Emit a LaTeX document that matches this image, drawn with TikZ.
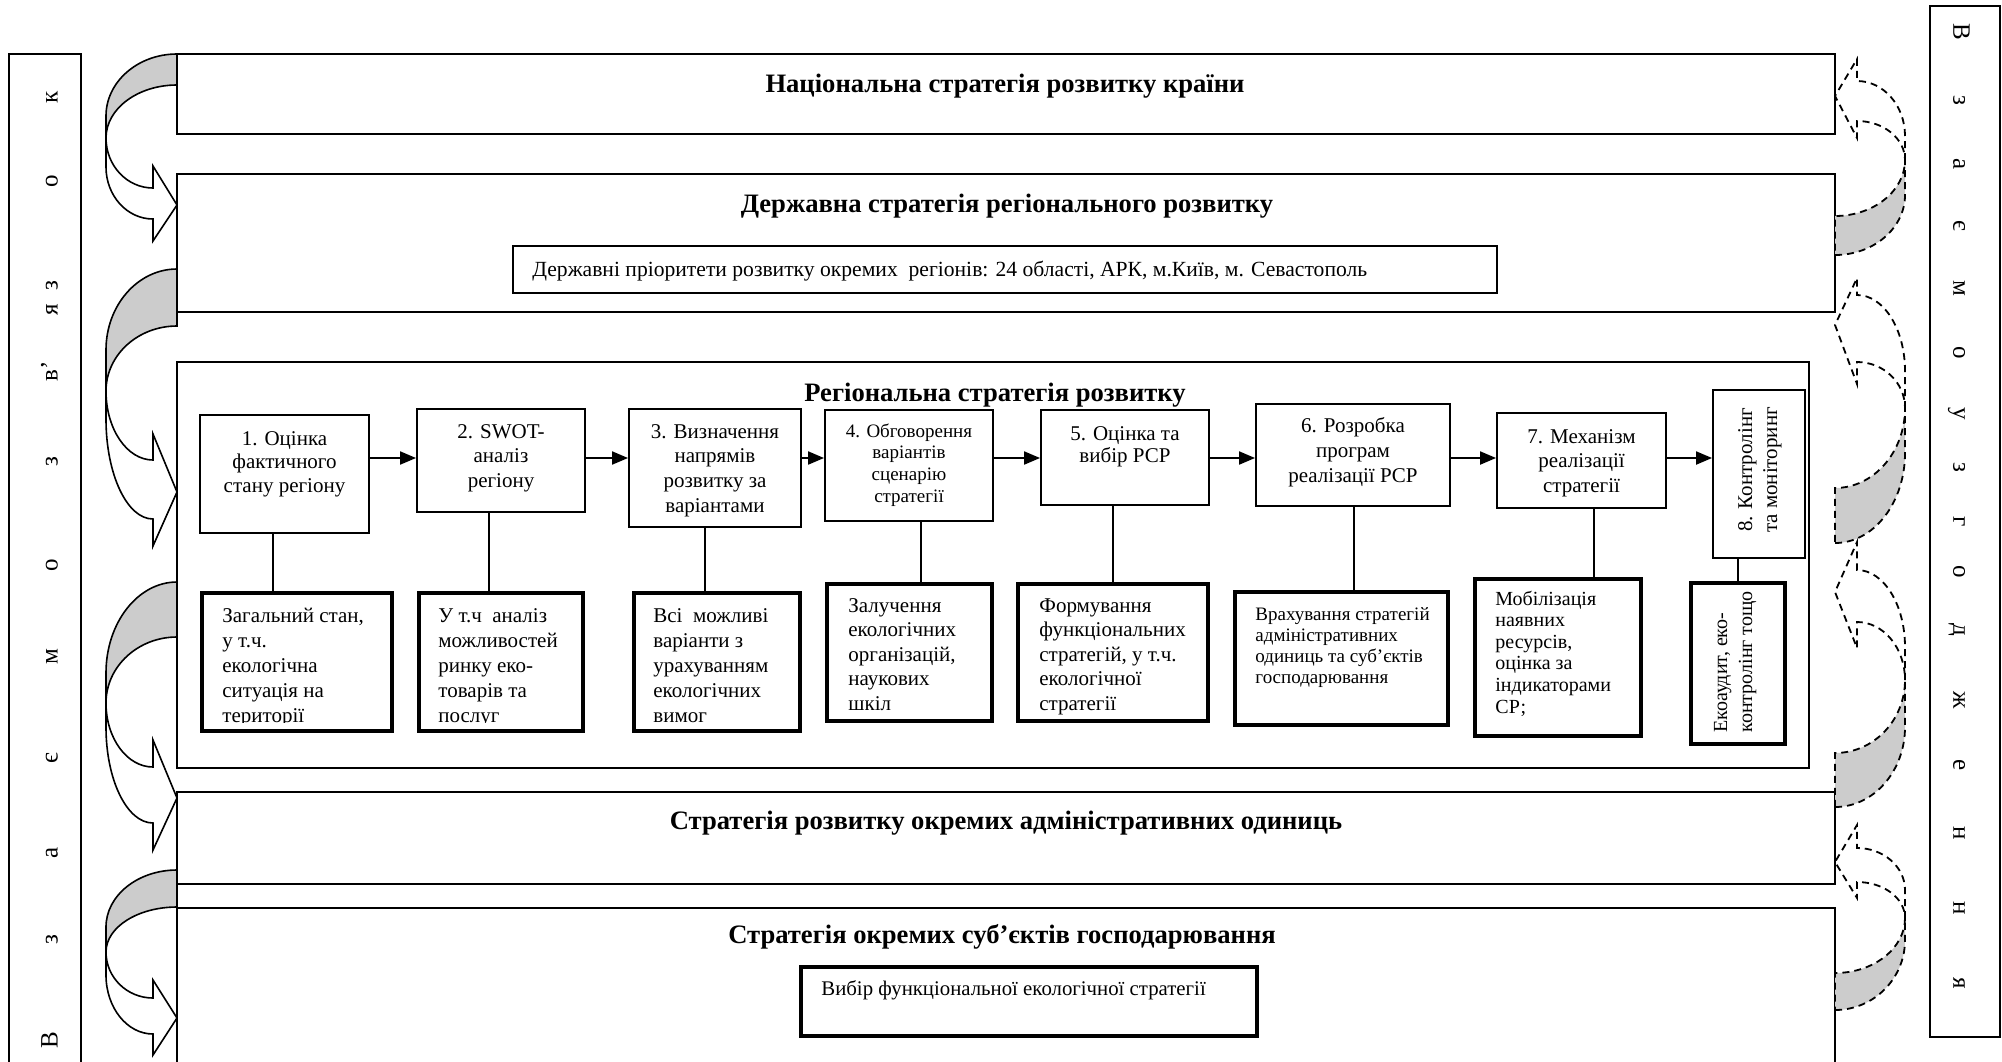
\documentclass[tikz,border=0pt]{standalone}
\usepackage{fontspec}
\setmainfont{Liberation Serif}
\usetikzlibrary{arrows.meta,calc,fit}
\definecolor{bandgray}{RGB}{204,204,204}
\begin{document}
\begin{tikzpicture}[x=0.5pt,y=-0.5pt,
  frame/.style={draw,line width=0.95pt,inner sep=0pt},
  stepbox/.style={draw,line width=0.95pt,inner sep=0pt},
  detbox/.style={draw,line width=2pt,inner sep=0pt},
  ttl/.style={font=\fontsize{13.3}{16}\selectfont\bfseries,inner sep=0pt,anchor=base},
  txt/.style={inner sep=0pt,anchor=base},
  arr/.style={-{Triangle[length=8pt,width=6.5pt]},line width=1pt},
  conn/.style={line width=0.8pt},
  backband/.style={fill=bandgray,draw,line width=0.8pt},
  frontband/.style={fill=white,draw,line width=0.8pt},
  dback/.style={fill=bandgray,draw,line width=0.9pt,dash pattern=on 3.5pt off 2.5pt},
  dfront/.style={draw,line width=0.9pt,dash pattern=on 3.5pt off 2.5pt},
  letter/.style={font=\fontsize{12.5}{14}\selectfont,inner sep=0pt,text height=1ex,text depth=0pt}
]
\useasboundingbox (0,0) rectangle (2002,1061);

% side boxes
\node[frame,fit={(9,54) (81,1090)}] (lbox) {};
\node[frame,fit={(1930,6) (2000,1037)}] (rbox) {};
\foreach \ch/\yy [count=\i] in {В/1040,з/940,а/853,є/758,м/657,о/565,з/462,в’/371,я/310,з/286,о/181,к/97}
  \node[letter,rotate=90] (l\i) at (53,\yy) {\ch};
\foreach \ch/\yy [count=\i] in {В/32,з/100,а/164,є/226,м/288,о/353,у/414,з/467,г/522,о/572,д/630,ж/700,е/765,н/833,н/908,я/983}
  \node[letter,rotate=-90] (r\i) at (1958,\yy) {\ch};

% level boxes
\node[frame,fit={(177,54) (1835,134)}] (b1) {};
\node[frame,fit={(177,174) (1835,312)}] (b2) {};
\node[frame,line width=1pt,fit={(513,246) (1497,293)}] (b2i) {};
\node[frame,fit={(177,362) (1809,768)}] (b3) {};
\node[frame,fit={(177,792) (1835,884)}] (b4) {};
\node[frame,fit={(177,908) (1835,1090)}] (b5) {};
\node[frame,line width=1.6pt,fit={(801,967) (1257,1036)}] (b5i) {};

\node[ttl] (t1) at (1005,92) {Національна стратегія розвитку країни};
\node[ttl] (t2) at (1007,212) {Державна стратегія регіонального розвитку};
\node[txt,anchor=base west,font=\fontsize{10.8}{12}\selectfont] (t2i) at (532,276) {Державні пріоритети розвитку окремих~ регіонів: 24 області, АРК, м.Київ, м. Севастополь};
\node[ttl] (t3) at (995,401) {Регіональна стратегія розвитку};
\node[ttl] (t4) at (1006,829) {Стратегія розвитку окремих адміністративних одиниць};
\node[ttl] (t5) at (1002,943) {Стратегія окремих суб’єктів господарювання};
\node[txt,anchor=base west,font=\fontsize{10.4}{12}\selectfont] (t5i) at (821,995) {Вибір функціональної екологічної стратегії};

% step boxes
\node[stepbox,fit={(200,415) (369,533)}] (s1) {};
\node[stepbox,fit={(417,409) (585,512)}] (s2) {};
\node[stepbox,fit={(629,409) (801,527)}] (s3) {};
\node[stepbox,fit={(825,410) (993,521)}] (s4) {};
\node[stepbox,fit={(1041,410) (1209,505)}] (s5) {};
\node[stepbox,fit={(1256,404) (1450,506)}] (s6) {};
\node[stepbox,fit={(1497,413) (1666,508)}] (s7) {};
\node[stepbox,fit={(1713,390) (1805,558)}] (s8) {};

\node[txt,font=\fontsize{10.5}{11.75}\selectfont] (s1t) at (284.5,445) {\begin{tabular}[t]{@{}c@{}}1. Оцінка\\фактичного\\стану регіону\end{tabular}};
\node[txt,font=\fontsize{10.5}{12.25}\selectfont] (s2t) at (501,438) {\begin{tabular}[t]{@{}c@{}}2. SWOT-\\аналіз\\регіону\end{tabular}};
\node[txt,font=\fontsize{10.5}{12.35}\selectfont] (s3t) at (715,438) {\begin{tabular}[t]{@{}c@{}}3. Визначення\\напрямів\\розвитку за\\варіантами\end{tabular}};
\node[txt,font=\fontsize{9.5}{10.85}\selectfont] (s4t) at (909,437) {\begin{tabular}[t]{@{}c@{}}4. Обговорення\\варіантів\\сценарію\\стратегії\end{tabular}};
\node[txt,font=\fontsize{10.5}{11}\selectfont] (s5t) at (1125,440) {\begin{tabular}[t]{@{}c@{}}5. Оцінка та\\вибір РСР\end{tabular}};
\node[txt,font=\fontsize{10.5}{12.5}\selectfont] (s6t) at (1353,432) {\begin{tabular}[t]{@{}c@{}}6. Розробка\\програм\\реалізації РСР\end{tabular}};
\node[txt,font=\fontsize{10.5}{12.25}\selectfont] (s7t) at (1581.5,443) {\begin{tabular}[t]{@{}c@{}}7. Механізм\\реалізації\\стратегії\end{tabular}};
\node[inner sep=0pt,rotate=90,font=\fontsize{10.5}{12.5}\selectfont] (s8t) at (1759.5,470) {\begin{tabular}{@{}c@{}}8. Контролінг\\та моніторинг\end{tabular}};

% detail boxes
\node[detbox,fit={(202,593) (392,731)}] (d1) {};
\node[detbox,fit={(419,593) (583,731)}] (d2) {};
\node[detbox,fit={(634,593) (800,731)}] (d3) {};
\node[detbox,fit={(827,584) (992,721)}] (d4) {};
\node[detbox,fit={(1018,584) (1208,721)}] (d5) {};
\node[detbox,fit={(1235,592) (1448,725)}] (d6) {};
\node[detbox,fit={(1475,579) (1641,736)}] (d7) {};
\node[detbox,fit={(1691,583) (1785,744)}] (d8) {};

\begin{scope}
\clip (150,590) rectangle (1020,722);
\node[txt,anchor=base west,font=\fontsize{10.5}{12.5}\selectfont] (d1t) at (222,622) {\begin{tabular}[t]{@{}l@{}}Загальний стан,\\у т.ч.\\екологічна\\ситуація на\\території\end{tabular}};
\node[txt,anchor=base west,font=\fontsize{10.5}{12.5}\selectfont] (d2t) at (438,622) {\begin{tabular}[t]{@{}l@{}}У т.ч~ аналіз\\можливостей\\ринку еко-\\товарів та\\послуг\end{tabular}};
\node[txt,anchor=base west,font=\fontsize{10.5}{12.5}\selectfont] (d3t) at (653,622) {\begin{tabular}[t]{@{}l@{}}Всі~ можливі\\варіанти з\\урахуванням\\екологічних\\вимог\end{tabular}};
\end{scope}
\begin{scope}
\clip (820,580) rectangle (1215,714);
\node[txt,anchor=base west,font=\fontsize{10.5}{12.25}\selectfont] (d4t) at (848,612) {\begin{tabular}[t]{@{}l@{}}Залучення\\екологічних\\організацій,\\наукових\\шкіл\end{tabular}};
\node[txt,anchor=base west,font=\fontsize{10.5}{12.25}\selectfont] (d5t) at (1039,612) {\begin{tabular}[t]{@{}l@{}}Формування\\функціональних\\стратегій, у т.ч.\\екологічної\\стратегії\end{tabular}};
\end{scope}
\node[txt,anchor=base west,font=\fontsize{9.5}{10.5}\selectfont] (d6t) at (1255,620) {\begin{tabular}[t]{@{}l@{}}Врахування стратегій\\адміністративних\\одиниць та суб’єктів\\господарювання\end{tabular}};
\node[txt,anchor=base west,font=\fontsize{10}{10.8}\selectfont] (d7t) at (1495,605) {\begin{tabular}[t]{@{}l@{}}Мобілізація\\наявних\\ресурсів,\\оцінка за\\індикаторами\\СР;\end{tabular}};
\node[inner sep=0pt,rotate=90,anchor=west,font=\fontsize{10}{12.5}\selectfont] (d8t) at (1734.5,733) {\begin{tabular}{@{}l@{}}Екоаудит, еко-\\контролінг тощо\end{tabular}};

% horizontal arrows
\coordinate (ay) at (0,458);
\draw[arr] (s1.east |- ay) -- (s2.west |- ay);
\draw[arr] (s2.east |- ay) -- (s3.west |- ay);
\draw[arr] (s3.east |- ay) -- (s4.west |- ay);
\draw[arr] (s4.east |- ay) -- (s5.west |- ay);
\draw[arr] (s5.east |- ay) -- (s6.west |- ay);
\draw[arr] (s6.east |- ay) -- (s7.west |- ay);
\draw[arr] (s7.east |- ay) -- (s8.west |- ay);

% vertical connectors
\coordinate (k1) at (273,0);
\coordinate (k2) at (489,0);
\coordinate (k3) at (705,0);
\coordinate (k4) at (921,0);
\coordinate (k5) at (1113,0);
\coordinate (k6) at (1354,0);
\coordinate (k7) at (1594,0);
\coordinate (k8) at (1738,0);
\foreach \i in {1,...,8}
  \draw[conn] (s\i.south -| k\i) -- (d\i.north -| k\i);

% left curved arrows
\draw[backband] (177,54) .. controls (137.8,54) and (106,81.8) .. (106,116) -- (106,138) .. controls (106,108.7) and (137.8,85) .. (177,85) -- cycle;
\draw[frontband] (106,138) -- (106,167) .. controls (106,195.7) and (127,219) .. (153,219) -- (153,241) -- (177,205) -- (153,166) -- (153,188) .. controls (127,188) and (106,165.6) .. (106,138) -- cycle;

\draw[backband] (177,269) .. controls (137.8,269) and (106,305.3) .. (106,350) -- (106,391) .. controls (106,355.1) and (137.8,326) .. (177,326) -- cycle;
\draw[frontband] (106,391) -- (106,419) .. controls (106,474.2) and (127,519) .. (153,519) -- (153,546) -- (177,492) -- (153,434) -- (153,460) .. controls (127,460) and (106,429.1) .. (106,391) -- cycle;

\draw[backband] (177,582) .. controls (137.8,582) and (106,622.8) .. (106,673) -- (106,703) .. controls (106,666.6) and (137.8,637) .. (177,637) -- cycle;
\draw[frontband] (106,703) -- (106,727) .. controls (106,780) and (127,823) .. (153,823) -- (153,850) -- (177,798) -- (153,740) -- (153,767) .. controls (127,767) and (106,738.3) .. (106,703) -- cycle;

\draw[backband] (177,870) .. controls (137.8,870) and (106,895.5) .. (106,927) -- (106,952) .. controls (106,927.2) and (137.8,907) .. (177,907) -- cycle;
\draw[frontband] (106,952) -- (106,975) .. controls (106,1007.6) and (127,1034) .. (153,1034) -- (153,1055) -- (177,1018) -- (153,980) -- (153,998) .. controls (127,998) and (106,977.4) .. (106,952) -- cycle;

% right dashed curved arrows
\draw[dback] (1835,255) .. controls (1873.6,255) and (1905,228.1) .. (1905,195) -- (1905,160) .. controls (1905,190.9) and (1873.6,216) .. (1835,216) -- cycle;
\draw[dfront] (1905,160) -- (1905,136) .. controls (1905,105.6) and (1883.5,81) .. (1857,81) -- (1857,59) -- (1835,96) -- (1857,138) -- (1857,121) .. controls (1883.5,121) and (1905,138.5) .. (1905,160) -- cycle;

\draw[dback] (1835,543) .. controls (1873.6,543) and (1905,502.7) .. (1905,453) -- (1905,408) .. controls (1905,452.2) and (1873.6,488) .. (1835,488) -- cycle;
\draw[dfront] (1905,408) -- (1905,371) .. controls (1905,329) and (1883.5,295) .. (1857,295) -- (1857,278) -- (1835,325) -- (1857,384) -- (1857,362) .. controls (1883.5,362) and (1905,382.6) .. (1905,408) -- cycle;

\draw[dback] (1835,807) .. controls (1873.6,807) and (1905,771.2) .. (1905,727) -- (1905,680) .. controls (1905,720.3) and (1873.6,753) .. (1835,753) -- cycle;
\draw[dfront] (1905,680) -- (1905,647) .. controls (1905,604.5) and (1883.5,570) .. (1857,570) -- (1857,542) -- (1835,592) -- (1857,648) -- (1857,622) .. controls (1883.5,622) and (1905,648) .. (1905,680) -- cycle;

\draw[dback] (1835,1010) .. controls (1873.6,1010) and (1905,978.6) .. (1905,940) -- (1905,918) .. controls (1905,948.4) and (1873.6,973) .. (1835,973) -- cycle;
\draw[dfront] (1905,918) -- (1905,890) .. controls (1905,866.8) and (1883.5,848) .. (1857,848) -- (1857,825) -- (1835,862) -- (1857,898) -- (1857,882) .. controls (1883.5,882) and (1905,898.1) .. (1905,918) -- cycle;
\end{tikzpicture}
\end{document}
